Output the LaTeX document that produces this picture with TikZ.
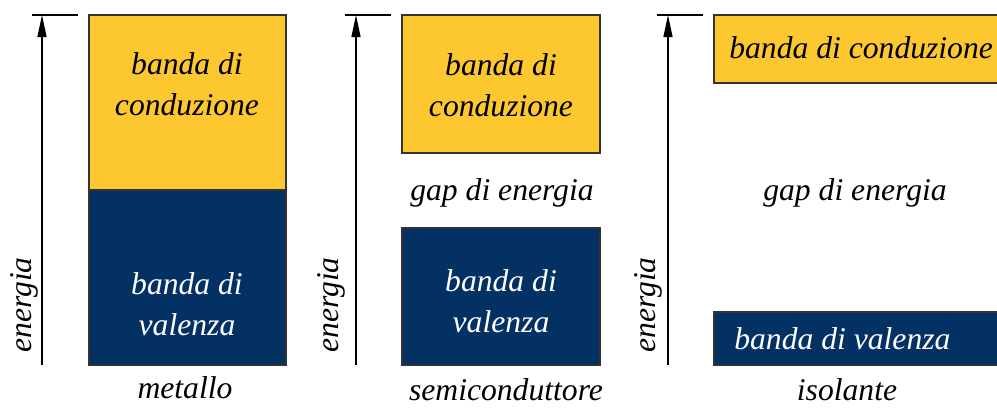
\documentclass[tikz,border=0pt]{standalone}
\usepackage{fontspec}
\setmainfont{Liberation Serif}
\usetikzlibrary{arrows.meta,fit}

\definecolor{bandyellow}{RGB}{253,200,47}
\definecolor{bandblue}{RGB}{3,49,99}

\begin{document}
\begin{tikzpicture}[x=0.02cm,y=-0.02cm,
    font=\fontsize{18}{23}\selectfont\itshape,
    cband/.style={draw=black!80, line width=0.6pt, fill=bandyellow, inner sep=0pt},
    vband/.style={draw=black!80, line width=0.6pt, fill=bandblue, inner sep=0pt},
    earrow/.style={-{Triangle[length=4.4mm,width=1.8mm]}, line width=0.7pt},
    tick/.style={line width=0.7pt}]

    \useasboundingbox (0,0) rectangle (997,407);

    % metallo
    \coordinate (A1) at (42,365);
    \coordinate (A2) at (42,15);
    \coordinate (T1) at (32,15);
    \coordinate (T2) at (78,15);
    \draw [earrow] (A1)--(A2) ;
    \draw [tick] (T1)--(T2) ;
    \coordinate (C1a) at (89,15);
    \coordinate (C1b) at (286,190);
    \coordinate (V1a) at (89,190);
    \coordinate (V1b) at (286,365);
    \node[cband, fit=(C1a)(C1b)] (C1) {};
    \node[vband, fit=(V1a)(V1b)] (V1) {};
    \node[align=center] (C1t) at (187,84) {banda di\\conduzione};
    \node[align=center, text=white] (V1t) at (187,304) {banda di\\valenza};
    \node[rotate=90] (E1) at (24,305) {energia};
    \node (M1) at (185,388) {metallo};

    % semiconduttore
    \coordinate (A3) at (356,365);
    \coordinate (A4) at (356,15);
    \coordinate (T3) at (345,15);
    \coordinate (T4) at (391,15);
    \draw [earrow] (A3)--(A4) ;
    \draw [tick] (T3)--(T4) ;
    \coordinate (C2a) at (402,15);
    \coordinate (C2b) at (600,153);
    \coordinate (V2a) at (402,228);
    \coordinate (V2b) at (600,365);
    \node[cband, fit=(C2a)(C2b)] (C2) {};
    \node[vband, fit=(V2a)(V2b)] (V2) {};
    \node[align=center] (C2t) at (501,85) {banda di\\conduzione};
    \node[align=center, text=white] (V2t) at (501,301) {banda di\\valenza};
    \node (G2) at (502,193) {gap di energia};
    \node[rotate=90] (E2) at (331,305) {energia};
    \node (M2) at (506,390) {semiconduttore};

    % isolante
    \coordinate (A5) at (668,365);
    \coordinate (A6) at (668,15);
    \coordinate (T5) at (657,15);
    \coordinate (T6) at (703,15);
    \draw [earrow] (A5)--(A6) ;
    \draw [tick] (T5)--(T6) ;
    \coordinate (C3a) at (714,15);
    \coordinate (C3b) at (1010,83);
    \coordinate (V3a) at (714,312);
    \coordinate (V3b) at (1010,365);
    \node[cband, fit=(C3a)(C3b)] (C3) {};
    \node[vband, fit=(V3a)(V3b)] (V3) {};
    \node[anchor=west, inner sep=0pt] (C3t) at (729,48) {banda di conduzione};
    \node[anchor=west, inner sep=0pt, text=white] (V3t) at (734,339) {banda di valenza};
    \node (G3) at (855,193) {gap di energia};
    \node[rotate=90] (E3) at (648,305) {energia};
    \node (M3) at (847,390) {isolante};

\end{tikzpicture}
\end{document}
